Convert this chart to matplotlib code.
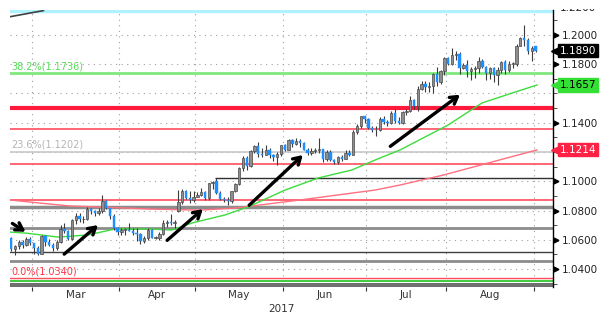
import numpy as np
import pandas as pd
import matplotlib
matplotlib.use('Agg')
import matplotlib.pyplot as plt
from matplotlib.transforms import Bbox, TransformedBbox, blended_transform_factory

# EUR/USD daily candles, 21 Feb - 1 Sep 2017
dates = pd.bdate_range('2017-02-21', '2017-09-01')
opens = [1.0613, 1.0540, 1.0557, 1.0587, 1.0562, 1.0605, 1.0575, 1.0546, 1.0505, 1.0623,
         1.0582, 1.0568, 1.0543, 1.0582, 1.0671, 1.0658, 1.0605, 1.0735, 1.0766, 1.0739,
         1.0745, 1.0810, 1.0797, 1.0783, 1.0799, 1.0866, 1.0815, 1.0765, 1.0678, 1.0652,
         1.0668, 1.0670, 1.0662, 1.0646, 1.0642, 1.0595, 1.0614, 1.0668, 1.0615, 1.0615,
         1.0641, 1.0714, 1.0720, 1.0715, 1.0800, 1.0859, 1.0931, 1.0886, 1.0875, 1.0895,
         1.0905, 1.0929, 1.0883, 1.0985, 1.1000, 1.0922, 1.0877, 1.0872, 1.0862, 1.0934,
         1.0981, 1.1088, 1.1157, 1.1101, 1.1206, 1.1243, 1.1184, 1.1182, 1.1215, 1.1182,
         1.1163, 1.1183, 1.1245, 1.1214, 1.1283, 1.1253, 1.1274, 1.1259, 1.1212, 1.1196,
         1.1208, 1.1211, 1.1217, 1.1149, 1.1197, 1.1145, 1.1131, 1.1166, 1.1151, 1.1195,
         1.1182, 1.1337, 1.1375, 1.1443, 1.1426, 1.1362, 1.1350, 1.1347, 1.1423, 1.1401,
         1.1400, 1.1463, 1.1414, 1.1399, 1.1471, 1.1478, 1.1558, 1.1516, 1.1633, 1.1666,
         1.1642, 1.1647, 1.1731, 1.1676, 1.1750, 1.1841, 1.1803, 1.1860, 1.1869, 1.1774,
         1.1792, 1.1755, 1.1769, 1.1772, 1.1822, 1.1782, 1.1736, 1.1770, 1.1723, 1.1760,
         1.1814, 1.1762, 1.1800, 1.1802, 1.1923, 1.1978, 1.1967, 1.1886, 1.1920]
highs = [1.0617, 1.0568, 1.0600, 1.0600, 1.0620, 1.0620, 1.0578, 1.0560, 1.0633, 1.0630,
         1.0605, 1.0580, 1.0600, 1.0700, 1.0715, 1.0668, 1.0745, 1.0784, 1.0780, 1.0760,
         1.0825, 1.0820, 1.0807, 1.0820, 1.0906, 1.0875, 1.0820, 1.0775, 1.0690, 1.0680,
         1.0680, 1.0715, 1.0680, 1.0680, 1.0650, 1.0625, 1.0680, 1.0677, 1.0625, 1.0655,
         1.0737, 1.0738, 1.0777, 1.0736, 1.0937, 1.0950, 1.0943, 1.0936, 1.0933, 1.0925,
         1.0952, 1.0935, 1.0989, 1.1000, 1.1023, 1.0935, 1.0890, 1.0890, 1.0935, 1.0990,
         1.1100, 1.1170, 1.1170, 1.1213, 1.1250, 1.1268, 1.1230, 1.1245, 1.1225, 1.1185,
         1.1200, 1.1250, 1.1255, 1.1285, 1.1285, 1.1296, 1.1285, 1.1270, 1.1225, 1.1225,
         1.1230, 1.1296, 1.1220, 1.1210, 1.1210, 1.1155, 1.1170, 1.1180, 1.1210, 1.1210,
         1.1350, 1.1389, 1.1445, 1.1448, 1.1430, 1.1375, 1.1380, 1.1440, 1.1445, 1.1420,
         1.1480, 1.1490, 1.1440, 1.1480, 1.1490, 1.1583, 1.1560, 1.1650, 1.1683, 1.1685,
         1.1675, 1.1740, 1.1777, 1.1760, 1.1846, 1.1845, 1.1910, 1.1892, 1.1880, 1.1810,
         1.1825, 1.1780, 1.1790, 1.1846, 1.1832, 1.1790, 1.1780, 1.1780, 1.1780, 1.1823,
         1.1825, 1.1820, 1.1815, 1.1940, 1.1983, 1.2070, 1.1980, 1.1920, 1.1925]
lows = [1.0521, 1.0494, 1.0540, 1.0543, 1.0560, 1.0568, 1.0505, 1.0494, 1.0500, 1.0560,
        1.0560, 1.0525, 1.0530, 1.0575, 1.0650, 1.0600, 1.0600, 1.0705, 1.0725, 1.0715,
        1.0735, 1.0775, 1.0760, 1.0770, 1.0785, 1.0810, 1.0740, 1.0670, 1.0630, 1.0635,
        1.0630, 1.0660, 1.0635, 1.0590, 1.0570, 1.0580, 1.0600, 1.0610, 1.0605, 1.0600,
        1.0630, 1.0690, 1.0700, 1.0680, 1.0790, 1.0845, 1.0880, 1.0850, 1.0860, 1.0890,
        1.0898, 1.0870, 1.0875, 1.0950, 1.0910, 1.0870, 1.0860, 1.0840, 1.0850, 1.0925,
        1.0975, 1.1070, 1.1075, 1.1095, 1.1195, 1.1165, 1.1165, 1.1180, 1.1160, 1.1140,
        1.1110, 1.1175, 1.1205, 1.1210, 1.1235, 1.1250, 1.1235, 1.1210, 1.1180, 1.1180,
        1.1190, 1.1195, 1.1130, 1.1140, 1.1140, 1.1120, 1.1120, 1.1140, 1.1150, 1.1170,
        1.1180, 1.1325, 1.1365, 1.1395, 1.1355, 1.1335, 1.1312, 1.1340, 1.1390, 1.1380,
        1.1390, 1.1400, 1.1390, 1.1390, 1.1450, 1.1475, 1.1495, 1.1480, 1.1620, 1.1610,
        1.1610, 1.1600, 1.1650, 1.1665, 1.1725, 1.1795, 1.1795, 1.1830, 1.1729, 1.1765,
        1.1713, 1.1688, 1.1704, 1.1740, 1.1772, 1.1688, 1.1700, 1.1680, 1.1660, 1.1740,
        1.1730, 1.1745, 1.1770, 1.1790, 1.1920, 1.1920, 1.1870, 1.1823, 1.1880]
closes = [1.0540, 1.0557, 1.0587, 1.0562, 1.0605, 1.0575, 1.0546, 1.0505, 1.0623, 1.0582,
          1.0568, 1.0543, 1.0582, 1.0671, 1.0658, 1.0605, 1.0735, 1.0766, 1.0739, 1.0745,
          1.0810, 1.0797, 1.0783, 1.0799, 1.0866, 1.0815, 1.0765, 1.0678, 1.0652, 1.0668,
          1.0670, 1.0662, 1.0646, 1.0642, 1.0595, 1.0614, 1.0668, 1.0615, 1.0615, 1.0641,
          1.0714, 1.0720, 1.0715, 1.0725, 1.0859, 1.0931, 1.0886, 1.0875, 1.0895, 1.0905,
          1.0929, 1.0883, 1.0985, 1.0998, 1.0922, 1.0877, 1.0872, 1.0862, 1.0934, 1.0981,
          1.1088, 1.1157, 1.1101, 1.1206, 1.1243, 1.1184, 1.1182, 1.1215, 1.1182, 1.1163,
          1.1183, 1.1245, 1.1214, 1.1283, 1.1253, 1.1274, 1.1259, 1.1212, 1.1196, 1.1208,
          1.1211, 1.1217, 1.1149, 1.1197, 1.1145, 1.1131, 1.1166, 1.1151, 1.1195, 1.1182,
          1.1337, 1.1375, 1.1443, 1.1426, 1.1362, 1.1350, 1.1347, 1.1423, 1.1401, 1.1400,
          1.1463, 1.1414, 1.1399, 1.1471, 1.1478, 1.1558, 1.1516, 1.1633, 1.1666, 1.1642,
          1.1647, 1.1731, 1.1676, 1.1750, 1.1841, 1.1803, 1.1860, 1.1869, 1.1774, 1.1792,
          1.1755, 1.1769, 1.1772, 1.1822, 1.1782, 1.1736, 1.1770, 1.1723, 1.1760, 1.1814,
          1.1762, 1.1800, 1.1802, 1.1923, 1.1978, 1.1967, 1.1886, 1.1907, 1.1890]

# moving averages, sampled along the curve (bar index, value)
ma50_idx = [-0.3, 4.2, 12.3, 20.2, 27.3, 36.0, 42.3, 47.6, 56.3, 62.3, 72.1, 80.8,
            89.7, 95.8, 102.3, 115.0, 123.9, 131.8, 138.4]
ma50_val = [1.0653, 1.0645, 1.0619, 1.0633, 1.0674, 1.0674, 1.0667, 1.0715, 1.0770,
            1.0824, 1.0940, 1.1022, 1.1077, 1.1145, 1.1213, 1.1384, 1.1534, 1.1602, 1.1657]
ma200_idx = [-0.3, 7.6, 15.5, 23.4, 36.6, 49.7, 59.0, 76.0, 95.8, 102.3, 113.7, 138.4]
ma200_val = [1.0872, 1.0851, 1.0831, 1.0824, 1.0810, 1.0803, 1.0817, 1.0872, 1.0940,
             1.0974, 1.1042, 1.1214]

# horizontal levels: (price, colour, width)
levels = [(1.0455, '#8c8c8c', 2.0), (1.0515, '#404040', 1.0), (1.0683, '#8c8c8c', 2.0),
          (1.0826, '#8c8c8c', 2.5), (1.0872, '#ff4d5e', 1.2), (1.1115, '#ff4d5e', 1.2),
          (1.1202, '#c8c8c8', 1.2), (1.1356, '#ff4d5e', 1.2), (1.1502, '#ff1a3d', 3.0),
          (1.1736, '#7ee87e', 2.0)]
fib_labels = [('38.2%(1.1736)', 1.1736, '#55dd55'), ('23.6%(1.1202)', 1.1202, '#b4b4b4'),
              ('0.0%(1.0340)', 1.0340, '#ff3344')]
may_high = 1.1022
tick_vals = [1.04, 1.06, 1.08, 1.10, 1.14, 1.18, 1.20]
last_tags = [('1.1890', 1.1890, 'black', 'white'), ('1.1657', 1.1657, '#33e033', 'black'),
             ('1.1214', 1.1214, '#ff2244', 'white')]
# trend arrows: (start index, start price, end index, end price)
arrows = [(-0.3, 1.0722, 4.4, 1.0645), (13.4, 1.0490, 23.4, 1.0713),
          (40.5, 1.0584, 51.0, 1.0822), (62.1, 1.0823, 77.3, 1.1192),
          (99.2, 1.1227, 118.7, 1.1602)]

fig = plt.figure(figsize=(6, 3.25), dpi=100)
ax = fig.add_axes([10/600, 1-287/325, 543/600, 277/325])
ax.set_xlim(-0.3, 142.6)
ax.set_ylim(1.0278, 1.2169)

x = np.arange(len(dates))
o = np.array(opens); h = np.array(highs); l = np.array(lows); c = np.array(closes)
up = c >= o

# grid
month_starts = [i for i in range(1, len(dates)) if dates[i].month != dates[i-1].month]
bounds = [i - 0.5 for i in month_starts]
for b in bounds:
    ax.axvline(b, color='#a0a0a0', lw=0.8, ls=(0, (1, 4)), zorder=1)
for v in np.arange(1.04, 1.21, 0.02):
    ax.axhline(v, color='#a0a0a0', lw=0.8, ls=(0, (1, 4)), zorder=1)

# bottom bands
ax.axhspan(1.0278, 1.0307, color='#707070', lw=0, zorder=2)
ax.axhline(1.0322, color='#44cc44', lw=1.5, zorder=2)
ax.axhline(1.0340, color='#ff4d5e', lw=1.0, zorder=2)
ax.axhline(1.2160, color='#aef2ff', lw=2.5, zorder=2)

for val, col, w in levels:
    ax.axhline(val, color=col, lw=w, zorder=2)
ax.hlines(may_high, 54 - 0.3, 142.6, color='#303030', lw=1.0, zorder=2)
ax.plot([-0.3, 8.5], [1.2123, 1.2165], color='#404040', lw=1.2, zorder=2)

for txt, val, col in fib_labels:
    ax.text(0.0, val + 0.0012, txt, color=col, fontsize=7, va='bottom', ha='left', zorder=3)

ax.plot(ma200_idx, ma200_val, color='#ff7080', lw=1.0, zorder=3)
ax.plot(ma50_idx, ma50_val, color='#3ddc3d', lw=1.0, zorder=3)

# candles
ax.vlines(x, l, h, color='#3c3c3c', lw=0.8, zorder=4)
bh = np.maximum(np.abs(c - o), 0.0004)
ax.bar(x[up], bh[up], bottom=np.minimum(o, c)[up], width=0.62,
       color='#8e8e8e', edgecolor='#4a4a4a', lw=0.5, zorder=5)
ax.bar(x[~up], bh[~up], bottom=np.minimum(o, c)[~up], width=0.62,
       color='#1f8fff', edgecolor='#1f8fff', lw=0.3, zorder=5)

for x0, y0, x1, y1 in arrows:
    ax.annotate('', xy=(x1, y1), xytext=(x0, y0),
                arrowprops=dict(arrowstyle='->,head_length=0.5,head_width=0.3',
                                color='black', lw=2.4), zorder=6)

# axes styling
for s in ['left', 'top', 'bottom']:
    ax.spines[s].set_visible(False)
ax.spines['right'].set_color('black')
ax.spines['right'].set_linewidth(1.0)
ax.yaxis.tick_right()
ax.set_yticks(tick_vals)
ax.set_yticklabels(['%.4f' % v for v in tick_vals])
ax.set_yticks(np.arange(1.03, 1.22, 0.01), minor=True)
ax.tick_params(axis='y', which='major', length=0, pad=6, labelsize=7.5, labelcolor='#222222')
ax.tick_params(axis='y', which='minor', length=3, color='#333333')
ax.set_xticks(bounds)
ax.set_xticklabels([])
ax.tick_params(axis='x', which='major', length=3, color='#333333')
mids = [(bounds[k] + bounds[k+1]) / 2 for k in range(len(bounds) - 1)]
ax.set_xticks(mids, minor=True)
ax.set_xticklabels([dates[month_starts[k]].strftime('%b') for k in range(len(mids))], minor=True)
ax.tick_params(axis='x', which='minor', length=0, pad=2, labelsize=7.5, labelcolor='#333333')
ax.text(0.5, -0.078, '2017', transform=ax.transAxes, ha='center', va='center',
        fontsize=7.5, color='#333333')

trans = blended_transform_factory(ax.transAxes, ax.transData)
ax.plot([1.005] * len(tick_vals), tick_vals, marker='>', color='black', ms=3.5,
        ls='none', transform=trans, clip_on=False)
top = ax.text(1.012, 1.2185, '1.2200', transform=trans, va='center', ha='left',
              fontsize=7.5, color='#222222', clip_on=True)
top.set_clip_box(TransformedBbox(Bbox([[0.9, 0.0], [1.0, 0.972]]), fig.transFigure))

# last-value tags: square box with a pointer on its left side
for txt, val, bg, fg in last_tags:
    ax.plot([1.005], [val], marker='<', color=bg, ms=7, transform=trans,
            clip_on=False, zorder=7)
    ax.text(1.013, val, txt, transform=trans, va='center', ha='left', fontsize=7.5,
            color=fg, bbox=dict(boxstyle='square,pad=0.15', fc=bg, ec=bg),
            clip_on=False, zorder=8)

fig.savefig('out.png', dpi=100)
